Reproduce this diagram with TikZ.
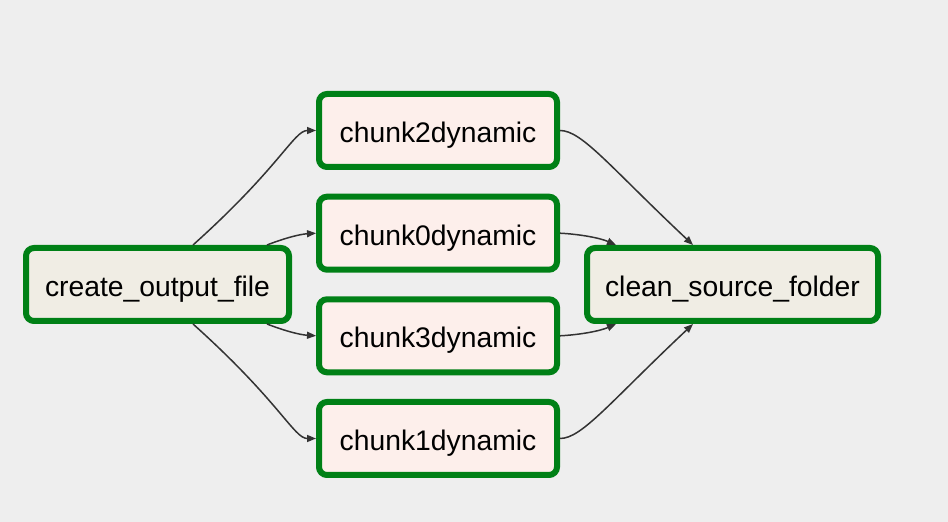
\documentclass[tikz,border=0pt]{standalone}
\usepackage{fontspec}
\setmainfont{Liberation Sans}
\usepackage{xcolor}
\usetikzlibrary{arrows.meta}

\definecolor{bggray}{RGB}{238,238,238}
\definecolor{taskgreen}{RGB}{0,128,22}
\definecolor{chunkpink}{RGB}{253,239,235}
\definecolor{endbeige}{RGB}{240,237,228}
\definecolor{edgegray}{RGB}{51,51,51}

\begin{document}
\begin{tikzpicture}[x=1pt,y=1pt,
		task/.style={draw=taskgreen, line width=6pt, rounded corners=8pt,
			inner sep=0pt, minimum height=73pt, text height=24pt, text depth=0pt,
			font=\fontsize{28.3}{34}\selectfont},
		chunk/.style={task, fill=chunkpink, minimum width=238pt},
		ends/.style={task, fill=endbeige},
		flow/.style={draw=edgegray, line width=1.5pt, -{Triangle[length=9pt,width=7pt]}}]
		 %\draw[help lines] (0,0) grid (948,522);
		 \fill[bggray] (0,0) rectangle (948,522);
		 
		 % first and last task
		 \node[ends, minimum width=263pt] (create) at (157.5,237.5) {create\_output\_file};
		 \node[ends, minimum width=291pt] (clean) at (732.5,237.5) {clean\_source\_folder};
		 
		 % the chunks
		 \node[chunk] (chunk2) at (438,391.5) {chunk2dynamic};
		 \node[chunk] (chunk0) at (438,288.8) {chunk0dynamic};
		 \node[chunk] (chunk3) at (438,186.2) {chunk3dynamic};
		 \node[chunk] (chunk1) at (438,83.5) {chunk1dynamic};
		 
		 \draw[flow] ([xshift=35.5pt]create.north) .. controls +(87,78) and +(-22,0) .. (chunk2.west);
		 \draw[flow] ([xshift=109.5pt]create.north) .. controls +(18,7) and +(-16,-1) .. (chunk0.west);
		 \draw[flow] ([xshift=109.5pt]create.south) .. controls +(18,-7) and +(-16,1) .. (chunk3.west);
		 \draw[flow] ([xshift=35.5pt]create.south) .. controls +(87,-78) and +(-22,0) .. (chunk1.west);
		 
		 \draw[flow] (chunk2.east) .. controls +(22,0) and +(-83,78) .. ([xshift=-39.5pt]clean.north);
		 \draw[flow] (chunk0.east) .. controls +(20,-1) and +(-16,7) .. ([xshift=-116.5pt]clean.north);
		 \draw[flow] (chunk3.east) .. controls +(20,1) and +(-16,-7) .. ([xshift=-116.5pt]clean.south);
		 \draw[flow] (chunk1.east) .. controls +(22,0) and +(-83,-78) .. ([xshift=-39.5pt]clean.south);
		 \end{tikzpicture}
\end{document}
